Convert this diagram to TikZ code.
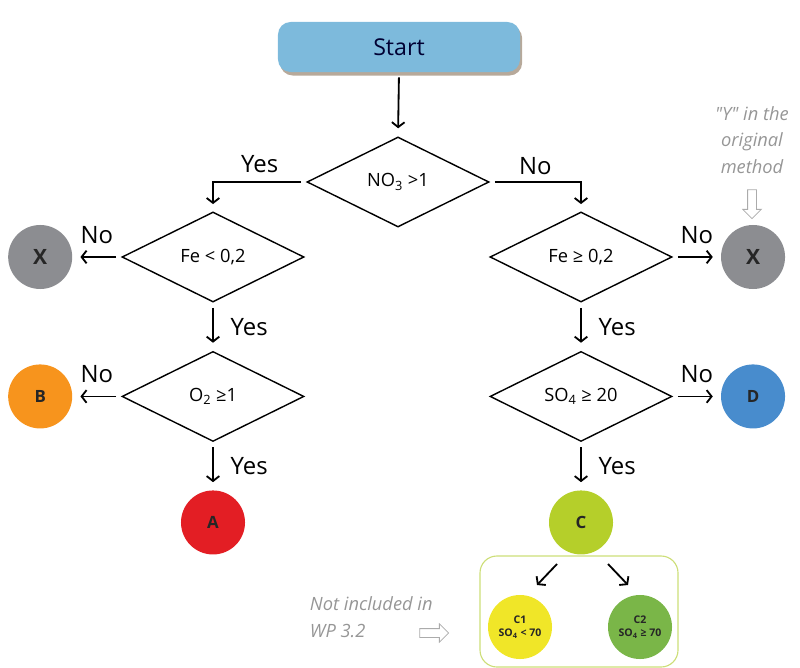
\documentclass[tikz,border=0pt]{standalone}
\usepackage{fontspec}
\setmainfont{Open Sans}
\newfontfamily\plainquotes{Open Sans}[Ligatures=TeXOff]
\usetikzlibrary{positioning, shapes.geometric, shapes.arrows, arrows.meta, shadows}
\definecolor{startblue}{RGB}{125, 186, 220}
\definecolor{xgray}{RGB}{140, 141, 145}
\definecolor{borange}{RGB}{247, 148, 29}
\definecolor{ared}{RGB}{227, 30, 36}
\definecolor{dblue}{RGB}{72, 140, 205}
\definecolor{clime}{RGB}{181, 207, 42}
\definecolor{conelime}{RGB}{240, 230, 40}
\definecolor{ctwogreen}{RGB}{122, 182, 72}
\definecolor{boxlime}{RGB}{205, 222, 120}
\definecolor{notegray}{RGB}{150, 150, 150}

\begin{document}
\begin{tikzpicture}[
    x=0.025cm, y=-0.025cm,
    node distance=1.2cm,
    font=\fontsize{13}{16}\selectfont,
    startbox/.style={rectangle, rounded corners=9pt, fill=startblue, minimum width=6.05cm, minimum height=1.25cm,
      drop shadow={shadow xshift=1.5pt, shadow yshift=-2.5pt, fill=brown!50!black, opacity=0.45},
      text=black!80!blue, font=\fontsize{16.5}{19}\selectfont},
    decision/.style={diamond, draw=black, line width=1pt, aspect=2, inner sep=0pt, minimum width=4.55cm, minimum height=2.25cm},
    result/.style={circle, minimum size=1.6cm, inner sep=0pt, text=black!85, font=\bfseries\fontsize{12}{14}\selectfont},
    subresult/.style={result, align=center, font=\bfseries\fontsize{7.5}{9}\selectfont},
    flow/.style={-{Straight Barb[length=3.5pt, width=9pt]}, line width=1.3pt},
    gap/.style={shorten <=1.3mm, shorten >=2mm},
    answer/.style={font=\fontsize{17}{20}\selectfont, inner sep=2pt},
    note/.style={text=notegray, font=\plainquotes\itshape\fontsize{13}{19}\selectfont},
    hollow/.style={single arrow, draw=notegray!80, fill=white, line width=0.6pt, inner sep=1mm, single arrow head extend=1.2mm, minimum height=0.72cm}
  ]
  \useasboundingbox (0,0) rectangle (800,668);

  % Nodes
  \node[startbox] (start) at (399,47) {Start};
  \node[decision] (no3) at (398,182) {NO\textsubscript{3} >1};
  \node[decision] (fe1) at (213,257) {Fe < 0,2};
  \node[decision] (fe2) at (581,257) {Fe ≥ 0,2};
  \node[decision, below=of fe1] (o2) {O\textsubscript{2} ≥1};
  \node[decision, below=of fe2] (so4) {SO\textsubscript{4} ≥ 20};

  \node[result, fill=xgray, left=1.22cm of fe1, font=\bfseries\fontsize{15}{17}\selectfont] (xleft) {X};
  \node[result, fill=borange, left=1.22cm of o2] (b) {B};
  \node[result, fill=ared, below=of o2] (a) {A};
  \node[result, fill=xgray, right=1.2cm of fe2, font=\bfseries\fontsize{15}{17}\selectfont] (xright) {X};
  \node[result, fill=dblue, right=1.2cm of so4] (d) {D};
  \node[result, fill=clime, below=of so4] (c) {C};

  \node[subresult, fill=conelime] (c1) at (520,627) {C1\\SO\textsubscript{4} < 70};
  \node[subresult, fill=ctwogreen] (c2) at (640,627) {C2\\SO\textsubscript{4} ≥ 70};
  \draw[boxlime, line width=0.8pt, rounded corners=12pt] (480,556) rectangle (678,667);

  % Notes
  \node[note, align=center] (ynote) at (752,140) {"Y" in the\\original\\method};
  \node[hollow, shape border rotate=270] (ymark) at (752,202) {};
  \node[note, align=left, anchor=north west] (wpnote) at (305,592) {Not included in\\WP 3.2};
  \node[hollow] (wpmark) at (432,633) {};

  % Edges
  \draw[flow, gap] (start.south) -- (no3.north);
  \draw[flow, shorten <=1.3mm, shorten >=1.8mm] (no3.west) -| node[answer, pos=0.25, above=1.5mm] {Yes} (fe1.north);
  \draw[flow, shorten <=1.3mm, shorten >=1.8mm] (no3.east) -| node[answer, pos=0.25, above=1mm] {No} (fe2.north);
  \draw[flow, gap] (fe1.west) -- node[answer, above=2.5mm] {No} (xleft.east);
  \draw[flow, gap] (o2.west) -- node[answer, above=2.5mm] {No} (b.east);
  \draw[flow, gap] (fe2.east) -- node[answer, above=2.5mm] {No} (xright.west);
  \draw[flow, gap] (so4.east) -- node[answer, above=2.5mm] {No} (d.west);
  \draw[flow, gap] (fe1.south) -- node[answer, right=3.5mm] {Yes} (o2.north);
  \draw[flow, gap] (o2.south) -- node[answer, right=3.5mm] {Yes} (a.north);
  \draw[flow, gap] (fe2.south) -- node[answer, right=3.5mm] {Yes} (so4.north);
  \draw[flow, gap] (so4.south) -- node[answer, right=3.5mm] {Yes} (c.north);

  \coordinate (cleft) at (557,564);
  \coordinate (cleftend) at (537,585);
  \coordinate (cright) at (608,564);
  \coordinate (crightend) at (628,585);
  \draw[flow] (cleft) -- (cleftend);
  \draw[flow] (cright) -- (crightend);
\end{tikzpicture}
\end{document}
